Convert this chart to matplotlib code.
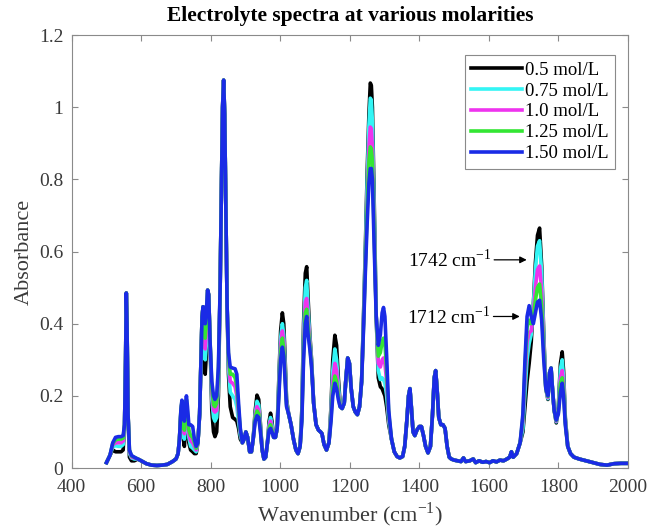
import numpy as np
import matplotlib
matplotlib.use('Agg')
import matplotlib.pyplot as plt

plt.rcParams['font.family'] = ['Liberation Serif', 'DejaVu Serif']
plt.rcParams['mathtext.fontset'] = 'custom'
plt.rcParams['mathtext.rm'] = 'Liberation Serif'

# wavenumber grid (cm-1) and absorbance of the 1.50 mol/L spectrum
wn = [500, 510, 518, 526, 534, 542, 548, 552, 555, 557, 559, 562, 566, 572, 580, 590,
      600, 615, 630, 645, 660, 675, 690, 700, 706, 710, 714, 717, 720, 724, 727, 730,
      733, 737, 742, 748, 753, 758, 763, 768, 772, 775, 778, 781, 784, 787, 791, 794,
      798, 803, 808, 812, 817, 822, 827, 831, 834, 837, 840, 843, 847, 851, 856, 863,
      870, 875, 880, 885, 891, 896, 901, 906, 912, 917, 922, 928, 933, 938, 943, 948,
      953, 958, 963, 968, 972, 976, 981, 986, 991, 996, 1001, 1006, 1010, 1014, 1018, 1024,
      1031, 1038, 1045, 1051, 1057, 1062, 1067, 1072, 1076, 1080, 1085, 1090, 1096, 1103, 1110, 1116,
      1120, 1126, 1133, 1140, 1146, 1151, 1157, 1162, 1167, 1172, 1178, 1184, 1189, 1194, 1199, 1204,
      1210, 1216, 1222, 1228, 1234, 1240, 1245, 1250, 1255, 1259, 1262, 1265, 1270, 1276, 1282, 1288,
      1293, 1297, 1301, 1306, 1312, 1320, 1328, 1336, 1344, 1352, 1358, 1364, 1369, 1373, 1377, 1382,
      1387, 1393, 1400, 1406, 1412, 1418, 1425, 1432, 1438, 1443, 1447, 1451, 1456, 1462, 1468, 1474,
      1480, 1486, 1492, 1500, 1510, 1520, 1527, 1533, 1545, 1555, 1562, 1572, 1582, 1592, 1602, 1612,
      1622, 1632, 1642, 1652, 1660, 1665, 1670, 1680, 1690, 1698, 1704, 1710, 1716, 1722, 1728, 1734,
      1740, 1746, 1752, 1758, 1764, 1770, 1775, 1779, 1783, 1788, 1794, 1800, 1806, 1811, 1815, 1820,
      1827, 1835, 1845, 1860, 1880, 1900, 1920, 1940, 1960, 1980, 2000]

a150 = [0.015, 0.035, 0.07, 0.085, 0.087, 0.087, 0.09, 0.12, 0.30, 0.485, 0.40, 0.15, 0.05, 0.035, 0.03, 0.025,
        0.02, 0.012, 0.008, 0.007, 0.008, 0.01, 0.018, 0.025, 0.04, 0.08, 0.16, 0.188, 0.16, 0.13, 0.17, 0.20,
        0.17, 0.12, 0.12, 0.115, 0.08, 0.06, 0.07, 0.15, 0.30, 0.42, 0.447, 0.42, 0.40, 0.43, 0.493, 0.48,
        0.35, 0.24, 0.20, 0.19, 0.20, 0.28, 0.50, 0.80, 1.00, 1.075, 0.98, 0.75, 0.45, 0.32, 0.28, 0.277,
        0.275, 0.26, 0.18, 0.11, 0.07, 0.08, 0.10, 0.085, 0.045, 0.045, 0.08, 0.13, 0.145, 0.14, 0.10, 0.05,
        0.025, 0.03, 0.07, 0.105, 0.11, 0.10, 0.085, 0.085, 0.11, 0.20, 0.30, 0.335, 0.31, 0.24, 0.17, 0.15,
        0.12, 0.08, 0.05, 0.04, 0.06, 0.13, 0.30, 0.40, 0.42, 0.37, 0.33, 0.28, 0.18, 0.12, 0.105, 0.10,
        0.095, 0.065, 0.05, 0.07, 0.13, 0.20, 0.235, 0.22, 0.19, 0.17, 0.165, 0.18, 0.25, 0.305, 0.29, 0.22,
        0.17, 0.155, 0.148, 0.17, 0.24, 0.40, 0.55, 0.68, 0.79, 0.83, 0.83, 0.80, 0.62, 0.42, 0.34, 0.37,
        0.43, 0.445, 0.42, 0.31, 0.16, 0.08, 0.045, 0.032, 0.028, 0.032, 0.06, 0.13, 0.20, 0.22, 0.17, 0.10,
        0.09, 0.105, 0.115, 0.115, 0.09, 0.06, 0.042, 0.06, 0.15, 0.25, 0.27, 0.22, 0.14, 0.12, 0.12, 0.11,
        0.06, 0.03, 0.025, 0.022, 0.02, 0.018, 0.028, 0.018, 0.02, 0.025, 0.015, 0.02, 0.016, 0.018, 0.015, 0.02,
        0.017, 0.022, 0.02, 0.025, 0.03, 0.045, 0.03, 0.04, 0.07, 0.15, 0.30, 0.42, 0.45, 0.42, 0.40, 0.43,
        0.46, 0.465, 0.41, 0.30, 0.22, 0.20, 0.265, 0.277, 0.22, 0.16, 0.133, 0.15, 0.21, 0.235, 0.20, 0.12,
        0.06, 0.04, 0.03, 0.025, 0.02, 0.015, 0.01, 0.008, 0.012, 0.013, 0.013]

# wavenumbers where the lower molarities differ from the 1.50 mol/L curve
diff_wn = [518, 526, 534, 542, 548, 566, 572, 580,
           714, 717, 720, 724, 727, 730, 733, 737, 742, 748, 753, 758,
           781, 784, 787, 803, 808, 812, 817, 822,
           851, 856, 863, 870, 875, 880, 885,
           928, 933, 938, 943, 968, 972, 976,
           996, 1001, 1006, 1010, 1014, 1018,
           1062, 1067, 1072, 1076, 1080, 1085, 1090,
           1146, 1151, 1157, 1162, 1167, 1172,
           1240, 1245, 1250, 1255, 1259, 1262, 1265, 1270, 1276, 1282, 1288, 1293, 1297, 1301, 1306, 1312,
           1698, 1704, 1710, 1716, 1722, 1728, 1734, 1740, 1746, 1752, 1758, 1764, 1770,
           1794, 1800, 1806, 1811, 1815, 1820]

a050 = [0.05, 0.045, 0.045, 0.045, 0.05, 0.03, 0.02, 0.02,
        0.15, 0.18, 0.10, 0.06, 0.10, 0.14, 0.11, 0.07, 0.05, 0.045, 0.04, 0.04,
        0.32, 0.26, 0.31, 0.16, 0.10, 0.087, 0.10, 0.20,
        0.26, 0.17, 0.14, 0.135, 0.13, 0.11, 0.08,
        0.16, 0.202, 0.19, 0.12, 0.13, 0.152, 0.13,
        0.25, 0.38, 0.43, 0.40, 0.30, 0.19,
        0.16, 0.40, 0.54, 0.558, 0.47, 0.37, 0.30,
        0.17, 0.30, 0.368, 0.34, 0.25, 0.18,
        0.44, 0.62, 0.82, 0.98, 1.067, 1.06, 1.00, 0.75, 0.42, 0.25, 0.225, 0.22, 0.21, 0.20, 0.17, 0.12,
        0.10, 0.17, 0.24, 0.29, 0.35, 0.45, 0.57, 0.645, 0.665, 0.56, 0.37, 0.22, 0.19,
        0.125, 0.17, 0.29, 0.322, 0.27, 0.14]

a075 = [0.058, 0.062, 0.06, 0.06, 0.065, 0.04, 0.028, 0.025,
        0.155, 0.18, 0.12, 0.08, 0.12, 0.165, 0.13, 0.085, 0.06, 0.055, 0.05, 0.045,
        0.35, 0.30, 0.34, 0.19, 0.14, 0.13, 0.14, 0.23,
        0.28, 0.21, 0.20, 0.19, 0.17, 0.13, 0.09,
        0.15, 0.185, 0.175, 0.115, 0.12, 0.14, 0.12,
        0.235, 0.36, 0.40, 0.37, 0.28, 0.185,
        0.15, 0.37, 0.50, 0.52, 0.44, 0.36, 0.295,
        0.16, 0.27, 0.33, 0.30, 0.23, 0.175,
        0.43, 0.60, 0.79, 0.95, 1.025, 1.02, 0.96, 0.72, 0.42, 0.27, 0.245, 0.25, 0.245, 0.235, 0.20, 0.13,
        0.11, 0.21, 0.30, 0.345, 0.37, 0.45, 0.55, 0.615, 0.63, 0.54, 0.36, 0.22, 0.192,
        0.128, 0.165, 0.275, 0.30, 0.25, 0.135]

a100 = [0.064, 0.07, 0.07, 0.07, 0.075, 0.045, 0.03, 0.028,
        0.155, 0.183, 0.13, 0.095, 0.135, 0.18, 0.14, 0.095, 0.075, 0.07, 0.06, 0.05,
        0.37, 0.33, 0.37, 0.21, 0.16, 0.155, 0.16, 0.25,
        0.30, 0.24, 0.235, 0.225, 0.20, 0.15, 0.10,
        0.145, 0.17, 0.16, 0.11, 0.115, 0.13, 0.11,
        0.22, 0.34, 0.38, 0.35, 0.265, 0.18,
        0.14, 0.34, 0.46, 0.47, 0.41, 0.35, 0.29,
        0.15, 0.24, 0.29, 0.27, 0.21, 0.172,
        0.42, 0.58, 0.75, 0.89, 0.945, 0.94, 0.89, 0.68, 0.42, 0.29, 0.28, 0.30, 0.305, 0.29, 0.24, 0.14,
        0.13, 0.25, 0.35, 0.375, 0.38, 0.43, 0.50, 0.55, 0.56, 0.49, 0.34, 0.22, 0.195,
        0.13, 0.16, 0.25, 0.27, 0.23, 0.13]

a125 = [0.068, 0.078, 0.08, 0.08, 0.083, 0.05, 0.033, 0.03,
        0.158, 0.185, 0.14, 0.105, 0.15, 0.19, 0.155, 0.105, 0.09, 0.085, 0.07, 0.055,
        0.39, 0.36, 0.40, 0.225, 0.175, 0.17, 0.18, 0.26,
        0.31, 0.26, 0.26, 0.25, 0.225, 0.165, 0.105,
        0.14, 0.158, 0.15, 0.105, 0.11, 0.12, 0.105,
        0.21, 0.32, 0.36, 0.33, 0.25, 0.175,
        0.135, 0.32, 0.43, 0.44, 0.39, 0.34, 0.285,
        0.14, 0.22, 0.255, 0.24, 0.20, 0.17,
        0.41, 0.565, 0.72, 0.85, 0.89, 0.885, 0.85, 0.65, 0.42, 0.31, 0.32, 0.35, 0.36, 0.345, 0.27, 0.15,
        0.14, 0.28, 0.39, 0.41, 0.40, 0.42, 0.465, 0.50, 0.51, 0.45, 0.32, 0.22, 0.198,
        0.132, 0.155, 0.235, 0.25, 0.215, 0.125]

labels = ['0.5 mol/L', '0.75 mol/L', '1.0 mol/L', '1.25 mol/L', '1.50 mol/L']
colors = ['#000000', '#33f5f5', '#ee33ee', '#33e633', '#1a2be6']

idx = [wn.index(w) for w in diff_wn]


def build(vals):
    y = np.array(a150, dtype=float)
    y[idx] = vals
    return y


series = [build(a050), build(a075), build(a100), build(a125), np.array(a150)]

fig = plt.figure(figsize=(6.52, 5.31), dpi=100)
ax = fig.add_axes([0.110, 0.1186, 0.853, 0.8154])

for y, lab, c in zip(series, labels, colors):
    ax.plot(wn, y, color=c, lw=2.6, label=lab, solid_joinstyle='round')

ax.set_xlim(400, 2000)
ax.set_ylim(0, 1.2)
ax.set_xticks(range(400, 2001, 200))
ax.set_yticks([0, 0.2, 0.4, 0.6, 0.8, 1.0, 1.2])
ax.set_yticklabels(['0', '0.2', '0.4', '0.6', '0.8', '1', '1.2'])
ax.tick_params(direction='in', top=True, right=True, labelsize=14,
               colors='#8a8a8a', labelcolor='#3a3a3a', length=4)
ax.tick_params(axis='x', pad=8)
ax.tick_params(axis='y', pad=6)
for s in ax.spines.values():
    s.set_color('#8a8a8a')
    s.set_linewidth(0.8)

ax.set_title('Electrolyte spectra at various molarities', fontsize=15.5,
             fontweight='bold', pad=10)
ax.set_xlabel('Wavenumber (cm$^{-1}$)', fontsize=16, color='#3a3a3a', labelpad=3)
ax.set_ylabel('Absorbance', fontsize=16, color='#3a3a3a', labelpad=4)

leg = ax.legend(loc='upper right', bbox_to_anchor=(0.9766, 0.9538), fontsize=13.5,
                handlelength=2.7, handletextpad=0.15, labelspacing=0.2, borderpad=0.35,
                borderaxespad=0, fancybox=False, framealpha=1)
leg.get_frame().set_edgecolor('#8a8a8a')
leg.get_frame().set_linewidth(0.8)

ax.annotate('1742 cm$^{-1}$', xy=(1709, 0.577), xytext=(1487, 0.577),
            fontsize=14, ha='center', va='center',
            arrowprops=dict(arrowstyle='-|>', color='k', lw=0.9, shrinkA=41, shrinkB=0,
                            mutation_scale=10))
ax.annotate('1712 cm$^{-1}$', xy=(1689, 0.42), xytext=(1485, 0.42),
            fontsize=14, ha='center', va='center',
            arrowprops=dict(arrowstyle='-|>', color='k', lw=0.9, shrinkA=41, shrinkB=0,
                            mutation_scale=10))

fig.savefig('out.png', dpi=100)
